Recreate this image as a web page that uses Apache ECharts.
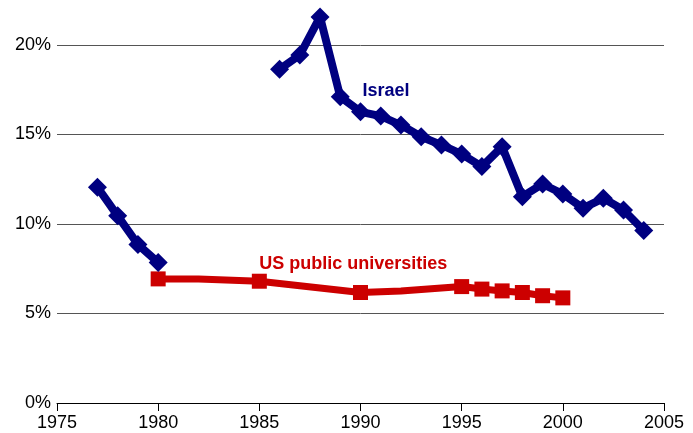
<!DOCTYPE html>
<html>
<head>
<meta charset="utf-8">
<script src="https://cdn.jsdelivr.net/npm/echarts@6/dist/echarts.min.js"></script>
<style>
  html, body { margin: 0; padding: 0; background: #fff; }
  #chart { width: 693px; height: 433px; }
</style>
</head>
<body>
<div id="chart"></div>
<script>
// 以色列：年份与比例（%），1981-1985 无数据
const israelYears = [1977, 1978, 1979, 1980, 1981, 1982, 1983, 1984, 1985,
  1986, 1987, 1988, 1989, 1990, 1991, 1992, 1993, 1994, 1995,
  1996, 1997, 1998, 1999, 2000, 2001, 2002, 2003, 2004];
const israelValues = [12.05, 10.45, 8.85, 7.84, null, null, null, null, null,
  18.64, 19.43, 21.56, 17.1, 16.26, 16.02, 15.52, 14.87, 14.41, 13.9,
  13.2, 14.31, 11.52, 12.23, 11.67, 10.88, 11.43, 10.78, 9.63];

// 美国公立大学
const usYears = [1980, 1982, 1985, 1987, 1990, 1992, 1995, 1996, 1997, 1998, 1999, 2000];
const usValues = [6.93, 6.93, 6.8, 6.55, 6.17, 6.25, 6.5, 6.36, 6.26, 6.17, 5.99, 5.87];
// 带方块标记的年份
const usMarked = [1980, 1985, 1990, 1995, 1996, 1997, 1998, 1999, 2000];

const xTicks = [1975, 1980, 1985, 1990, 1995, 2000, 2005];
const yTicks = [0, 5, 10, 15, 20];

const FONT = "'Liberation Sans', Arial, sans-serif";

const chart = echarts.init(document.getElementById("chart"));

const option = {
  animation: false,
  backgroundColor: "#fff",
  grid: {
    left: 57,
    right: 29,
    top: 9,
    bottom: 30,
  },
  xAxis: {
    type: "value",
    min: xTicks[0],
    max: xTicks[xTicks.length - 1],
    interval: 5,
    axisLine: { lineStyle: { color: "#000", width: 1 } },
    axisTick: { show: true, length: 8, lineStyle: { color: "#000" } },
    axisLabel: {
      color: "#000",
      fontSize: 18,
      fontFamily: FONT,
      margin: 11,
      formatter: (v) => String(v),
    },
    splitLine: { show: false },
  },
  yAxis: {
    type: "value",
    min: 0,
    max: 22,
    interval: 5,
    axisLine: { show: false },
    axisTick: { show: false },
    axisLabel: {
      color: "#000",
      fontSize: 18,
      fontFamily: FONT,
      margin: 6,
      showMaxLabel: false,
      formatter: (v) => (yTicks.includes(v) ? v + "%" : ""),
    },
    splitLine: {
      show: true,
      showMaxLine: false,
      lineStyle: { color: "#555", width: 1 },
    },
  },
  series: [
    {
      name: "Israel",
      type: "line",
      data: israelYears.map((y, i) => [y, israelValues[i]]),
      connectNulls: false,
      clip: false,
      symbol: "diamond",
      symbolSize: 19,
      showAllSymbol: true,
      lineStyle: { color: "#000080", width: 8 },
      itemStyle: { color: "#000080" },
      z: 3,
    },
    {
      name: "US public universities",
      type: "line",
      data: usYears.map((y, i) => [y, usValues[i]]),
      clip: false,
      symbol: "rect",
      showAllSymbol: true,
      symbolSize: (val) => (usMarked.includes(val[0]) ? 15 : 0),
      lineStyle: { color: "#CC0000", width: 7 },
      itemStyle: { color: "#CC0000" },
      z: 2,
    },
  ],
};

chart.setOption(option);

// 系列名称标注，按数据坐标定位
const israelLabelAt = chart.convertToPixel({ gridIndex: 0 }, [1990.1, 17.36]);
const usLabelAt = chart.convertToPixel({ gridIndex: 0 }, [1985.0, 7.71]);
chart.setOption({
  graphic: [
    {
      type: "text",
      left: israelLabelAt[0],
      top: israelLabelAt[1] - 10,
      style: {
        text: "Israel",
        fill: "#000080",
        font: "bold 18px " + FONT,
      },
    },
    {
      type: "text",
      left: usLabelAt[0],
      top: usLabelAt[1] - 10,
      style: {
        text: "US public universities",
        fill: "#CC0000",
        font: "bold 18px " + FONT,
      },
    },
  ],
});
</script>
</body>
</html>
